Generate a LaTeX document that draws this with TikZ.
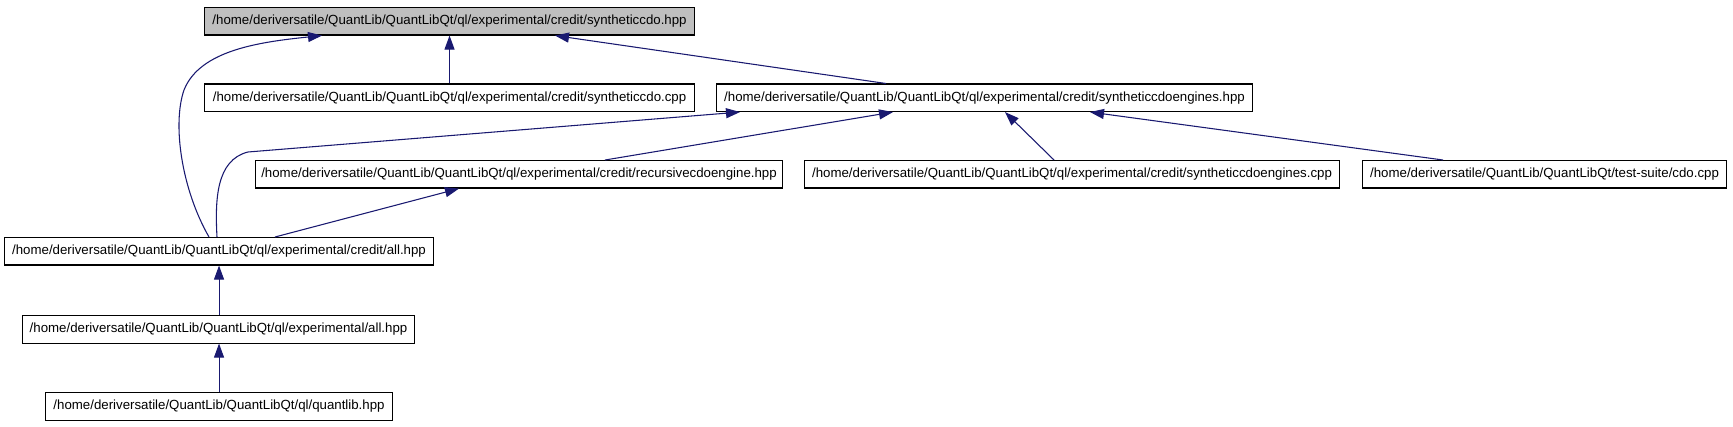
\documentclass[tikz,border=0pt]{standalone}
\usepackage{fontspec}
\setmainfont{Liberation Sans}
\usetikzlibrary{calc,arrows.meta}
\definecolor{edgeblue}{HTML}{191970}
\definecolor{topgrey}{HTML}{BFBFBF}
\tikzset{
  gnode/.style={draw=black, line width=0.8pt, inner sep=0pt, anchor=north west},
  glabel/.style={font=\fontsize{9.95pt}{11pt}\selectfont, text=black, inner sep=0pt},
  edge/.style={draw=edgeblue, line width=0.8pt, -{Triangle[length=10.5pt,width=7.5pt]}},
}
\newcommand\gbox[6]{%
  \node[gnode, minimum width={(#4-#2)*0.75pt}, minimum height={(#5-#3)*0.75pt}, #6] (#1) at (#2,#3) {};}
\begin{document}
\begin{tikzpicture}[x=0.75pt,y=-0.75pt]
\path[use as bounding box] (0,0) rectangle (1733,427);
% nodes
\gbox{top}{204}{7}{694}{34.5}{fill=topgrey}
\gbox{cpp}{204}{83.5}{694}{111}{}
\gbox{engh}{716}{83.5}{1252}{111}{}
\gbox{rec}{255}{160}{782}{187.5}{}
\gbox{engc}{804}{160}{1339}{187.5}{}
\gbox{cdo}{1362}{160}{1726}{187.5}{}
\gbox{call}{4}{237}{433}{264.5}{}
\gbox{eall}{22}{315}{414}{342.5}{}
\gbox{ql}{45}{392}{392}{419.5}{}
% labels
\node[glabel] at (top.center) {/home/deriversatile/QuantLib/QuantLibQt/ql/experimental/credit/syntheticcdo.hpp};
\node[glabel] at (cpp.center) {/home/deriversatile/QuantLib/QuantLibQt/ql/experimental/credit/syntheticcdo.cpp};
\node[glabel] at (engh.center) {/home/deriversatile/QuantLib/QuantLibQt/ql/experimental/credit/syntheticcdoengines.hpp};
\node[glabel] at (rec.center) {/home/deriversatile/QuantLib/QuantLibQt/ql/experimental/credit/recursivecdoengine.hpp};
\node[glabel] at (engc.center) {/home/deriversatile/QuantLib/QuantLibQt/ql/experimental/credit/syntheticcdoengines.cpp};
\node[glabel] at (cdo.center) {/home/deriversatile/QuantLib/QuantLibQt/test-suite/cdo.cpp};
\node[glabel] at (call.center) {/home/deriversatile/QuantLib/QuantLibQt/ql/experimental/credit/all.hpp};
\node[glabel] at (eall.center) {/home/deriversatile/QuantLib/QuantLibQt/ql/experimental/all.hpp};
\node[glabel] at (ql.center) {/home/deriversatile/QuantLib/QuantLibQt/ql/quantlib.hpp};
% edges
\draw[edge] ($(call.north west)+(205,0)$) .. controls (182,190) and (172,125) .. (184,90)
  .. controls (200,50) and (260,42) .. ($(top.south west)+(118,0)$);
\draw[edge] (cpp.north) -- (top.south);
\draw[edge] ($(engh.north west)+(170,0)$) -- ($(top.south west)+(351,0)$);
\draw[edge] ($(call.north west)+(213,0)$) .. controls (215,200) and (216,160) .. (248,152)
  -- ($(engh.south west)+(24,0)$);
\draw[edge] ($(rec.north west)+(350,0)$) -- ($(engh.south west)+(177,0)$);
\draw[edge] ($(engc.north west)+(250,0)$) -- ($(engh.south west)+(289,0)$);
\draw[edge] ($(cdo.north west)+(81,0)$) -- ($(engh.south west)+(374,0)$);
\draw[edge] ($(call.north west)+(271,0)$) -- ($(rec.south west)+(204,0)$);
\draw[edge] (eall.north -| call.north) -- (call.south);
\draw[edge] (ql.north -| call.north) -- (eall.south -| call.north);
\end{tikzpicture}
\end{document}
